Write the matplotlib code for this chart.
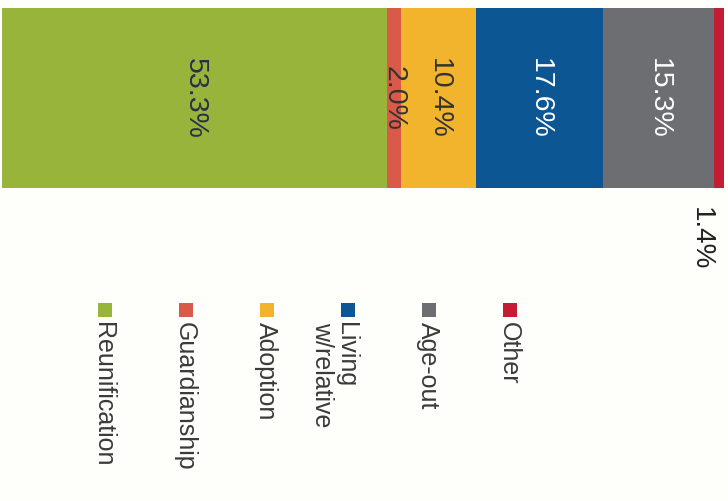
import numpy as np
import matplotlib.pyplot as plt

# outcome categories, share of exits (%), and colours
categories = ["Reunification", "Guardianship", "Adoption", "Living\nw/relative", "Age-out", "Other"]
shares = [53.3, 2.0, 10.4, 17.6, 15.3, 1.4]
labels = ["53.3%", "2.0%", "10.4%", "17.6%", "15.3%", "1.4%"]
colors = ["#98b43a", "#d95a48", "#f2b42c", "#0d5694", "#6d6e72", "#c41c34"]
text_colors = ["#2b2d4a", "#333333", "#333333", "white", "white", "#222222"]

plt.rcParams['font.family'] = ['Liberation Sans', 'DejaVu Sans']

fig = plt.figure(figsize=(7.28, 5.01), dpi=100)
fig.patch.set_facecolor("#fefefb")

# the stacked bar (whole chart is turned on its side)
ax = fig.add_axes([2 / 728, 1 - 188 / 501, 722 / 728, 180 / 501])
lefts = np.concatenate([[0], np.cumsum(shares)[:-1]])
ax.barh([0] * len(shares), shares, left=lefts, height=1, color=colors, edgecolor="none")
ax.set_xlim(0, sum(shares))
ax.set_ylim(-0.5, 0.5)
ax.axis("off")

for i, (left, w, lab) in enumerate(zip(lefts, shares, labels)):
    cx = left + w / 2
    if i == len(shares) - 1:
        # last slice too thin -> label hangs below the bar
        ax.annotate(lab, (cx, -0.5), xytext=(-13, -14), textcoords="offset points",
                    rotation=270, ha="center", va="top", fontsize=20, color=text_colors[i],
                    annotation_clip=False)
    else:
        ax.text(cx, 0, lab, rotation=270, ha="center", va="center",
                fontsize=20.5, color=text_colors[i])

# legend, drawn by hand so it can be rotated like the rest
lax = fig.add_axes([0, 0, 1, 1])
lax.set_xlim(0, 728)
lax.set_ylim(501, 0)
lax.axis("off")
x0, step, my = 104.5, 81, 309.5
for i, (cat, col) in enumerate(zip(categories, colors)):
    x = x0 + i * step
    lax.scatter([x], [my], marker="s", s=115, color=col, linewidths=0)
    lax.text(x + 11, my + 12, cat, rotation=270, ha="right", va="top",
             multialignment="left", fontsize=18, color="#3a3a3a", linespacing=1.05)

fig.savefig("out.png", dpi=100, facecolor=fig.get_facecolor())
